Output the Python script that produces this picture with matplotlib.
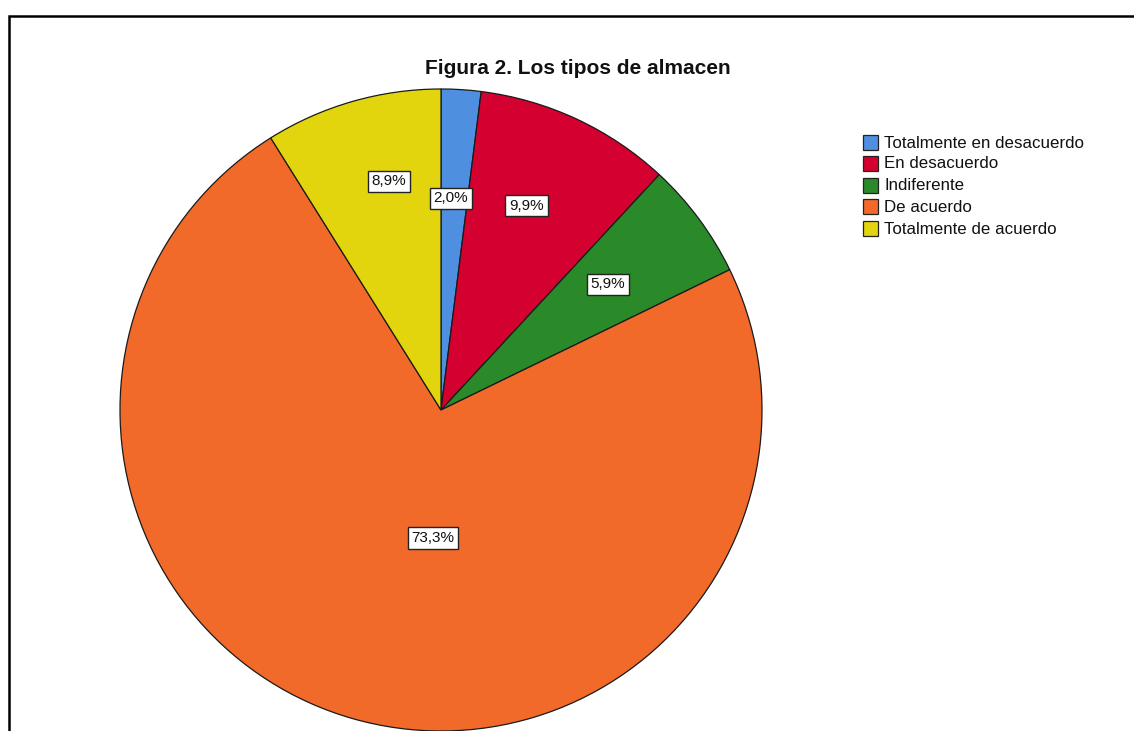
import matplotlib
matplotlib.use("Agg")
import matplotlib.pyplot as plt
from matplotlib.patches import Rectangle
import numpy as np

plt.rcParams['font.family'] = ['Liberation Sans', 'DejaVu Sans']

title = "Figura 2. Los tipos de almacen"
categories = ["Totalmente en desacuerdo", "En desacuerdo", "Indiferente",
              "De acuerdo", "Totalmente de acuerdo"]
percentages = [2.0, 9.9, 5.9, 73.3, 8.9]
colors = ["#4F8FE0", "#D4002F", "#2A8A2A", "#F26A2A", "#E2D50E"]

# label anchor (fraction of radius, angle in degrees) for each slice
label_pos = [(0.66, 87.3), (0.69, 67.3), (0.65, 37.0), (0.40, -93.6), (0.73, 102.8)]

W, H = 1134, 731
fig = plt.figure(figsize=(W / 100, H / 100), dpi=100)

# pie axes: centre (441, 410) px, radius 321 px
cx, cy, r = 441, 410, 321
ax = fig.add_axes([(cx - r) / W, (H - cy - r) / H, 2 * r / W, 2 * r / H])
wedges, _ = ax.pie(percentages, colors=colors, startangle=90, counterclock=False,
                   radius=1.0,
                   wedgeprops=dict(edgecolor="#1a1a1a", linewidth=0.9))
for w in wedges:
    w.set_clip_on(False)
ax.set_xlim(-1, 1)
ax.set_ylim(-1, 1)
ax.set_aspect("equal")
ax.axis("off")

for val, (fr, ang) in zip(percentages, label_pos):
    a = np.deg2rad(ang)
    ax.text(fr * np.cos(a), fr * np.sin(a), f"{val:.1f}%".replace(".", ","),
            ha="center", va="center", fontsize=11, color="#111111",
            bbox=dict(boxstyle="square,pad=0.25", facecolor="white",
                      edgecolor="#222222", linewidth=1.0))

fig.text(578 / W, 1 - 68 / H, title, ha="center", va="center",
         fontsize=15, fontweight="bold", color="#111111")

# legend
row_y = [143, 164, 186, 207, 229]
for cat, col, y in zip(categories, colors, row_y):
    fig.patches.append(Rectangle((863 / W, 1 - (y + 7) / H), 15 / W, 15 / H,
                                 transform=fig.transFigure, facecolor=col,
                                 edgecolor="#222222", linewidth=0.9))
    fig.text(884 / W, 1 - y / H, cat, ha="left", va="center",
             fontsize=12.2, color="#111111")

# outer frame
fig.patches.append(Rectangle((9 / W, -0.05), (1140 - 9) / W, 1.05 - 16 / H,
                             transform=fig.transFigure, fill=False,
                             edgecolor="black", linewidth=1.8, clip_on=False))

fig.savefig("out.png", dpi=100, facecolor="white")
